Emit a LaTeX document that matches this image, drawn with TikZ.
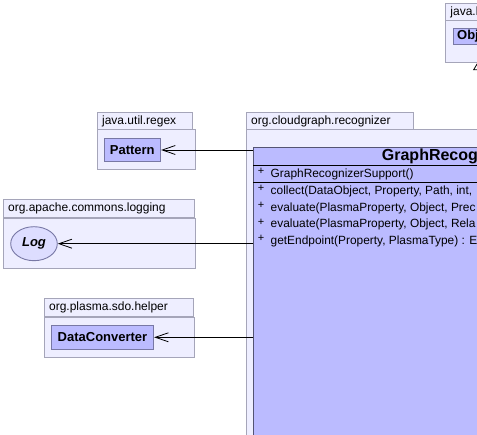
\documentclass[tikz,border=0pt]{standalone}
\usepackage{fontspec}
\setmainfont{Liberation Sans}
\usepackage{xcolor}
\usepackage{tikz}
\usetikzlibrary{
	positioning,						% Relative positioning
	shapes.geometric,					% Ellipse for the interface
	arrows.meta,						% Open arrow tips
	calc								% Coordinate calculations
}
\definecolor{pkg-fill}{RGB}{238,238,255}
\definecolor{pkg-line}{RGB}{165,165,185}
\definecolor{class-fill}{RGB}{187,187,255}
\definecolor{class-line}{RGB}{120,120,165}
\definecolor{iface-fill}{RGB}{221,221,255}

\begin{document}
\begin{tikzpicture}[x=1pt, y=-1pt]
		\tikzstyle{pkgtab} = [draw=pkg-line, fill=pkg-fill, line width=0.9pt, anchor=north west, inner xsep=5pt, inner ysep=0pt, minimum height=18pt, align=left, font=\fontsize{12}{14}\selectfont]
		\tikzstyle{pkgbody} = [draw=pkg-line, fill=pkg-fill, line width=0.9pt, anchor=north west, inner sep=0pt]
		\tikzstyle{classbox} = [draw=class-line, fill=class-fill, line width=0.9pt, inner sep=0pt, font=\bfseries\fontsize{13}{15}\selectfont]
		\tikzstyle{ifacebox} = [draw=class-line, fill=iface-fill, ellipse, line width=0.9pt, inner sep=0pt, font=\bfseries\itshape\fontsize{13}{15}\selectfont]
		\tikzstyle{member} = [anchor=west, inner sep=0pt, font=\fontsize{11.9}{14}\selectfont]
		\tikzstyle{dep} = [-{Straight Barb[length=13pt, width=9pt]}, line width=0.8pt]
		\tikzstyle{inherit} = [-{Triangle[open, length=8.5pt, width=10pt]}, line width=0.8pt]
		
		\useasboundingbox (0,0) rectangle (477,435);
		\clip (0,0) rectangle (477,435);
		
		% Packages
		%% java.lang
		\node[pkgtab, text width=80pt] at (445,2.7) (langTab) {java.lang};
		\node[pkgbody, minimum width=90pt, minimum height=41.7pt] at (445,20) (langBody) {};
		%% java.util.regex
		\node[pkgtab, text width=85pt] at (96.7,111.7) (regexTab) {java.util.regex};
		\node[pkgbody, minimum width=98.6pt, minimum height=40pt] at (96.7,129.3) (regexBody) {};
		%% org.apache.commons.logging
		\node[pkgtab, text width=181.3pt] at (2.7,199.3) (loggingTab) {org.apache.commons.logging};
		\node[pkgbody, minimum width=192.6pt, minimum height=50pt] at (2.7,218.3) (loggingBody) {};
		%% org.plasma.sdo.helper
		\node[pkgtab, text width=139.6pt] at (43.7,298.3) (helperTab) {org.plasma.sdo.helper};
		\node[pkgbody, minimum width=150.6pt, minimum height=40pt] at (43.7,317.3) (helperBody) {};
		%% org.cloudgraph.recognizer
		\node[pkgtab, text width=157.6pt] at (245.7,111.7) (recognizerTab) {org.cloudgraph.recognizer};
		\node[pkgbody, minimum width=470pt, minimum height=340pt] at (245.7,129.3) (recognizerBody) {};
		
		% Classes
		\node[classbox, anchor=north west, minimum width=60pt, minimum height=16.6pt, text width=52pt, inner xsep=3.5pt, align=left] at (452.7,27.7) (object) {Object};
		\node[classbox, minimum width=56.7pt, minimum height=23.4pt] at (132.3,150) (pattern) {Pattern};
		\node[ifacebox, minimum width=46.6pt, minimum height=34pt] at (34,243.7) (log) {Log};
		\node[classbox, minimum width=102.4pt, minimum height=24pt] at (102.5,337.3) (dataConverter) {DataConverter};
		
		%% GraphRecognizerSupport
		\node[classbox, anchor=north west, minimum width=451pt, minimum height=320pt, draw=class-line!70!black] at (253.3,146.7) (recognizer) {};
		\node[font=\bfseries\fontsize{16}{18}\selectfont, inner sep=0pt] at ($(recognizer.north)+(0,9.4)$) (recognizerName) {GraphRecognizerSupport};
		\draw[line width=0.9pt] ($(recognizer.north west)+(0,18.3)$) -- ($(recognizer.north east)+(0,18.3)$);
		\draw[line width=0.9pt] ($(recognizer.north west)+(0,36)$) -- ($(recognizer.north east)+(0,36)$);
		\foreach \y/\txt in {174/{GraphRecognizerSupport()}, 191/{collect(DataObject, Property, Path, int, }, 207.7/{evaluate(PlasmaProperty, Object, Prec}, 224.4/{evaluate(PlasmaProperty, Object, Rela}, 241/{getEndpoint(Property, PlasmaType) : E}}{
			\node[member, font=\fontsize{11}{12}\selectfont] at (257.6,\y-2.2) {+};
			\node[member] at (270.5,\y+0.5) {\txt};
		}
		
		% Dependencies
		\draw[dep] (recognizer.west |- pattern.east) to (pattern.east);
		\draw[dep] (recognizer.west |- log.east) to (log.east);
		\draw[dep] (recognizer.west |- dataConverter.east) to (dataConverter.east);
		
		% Generalization
		\coordinate (objectTip) at (478,61.7);
		\draw[inherit] (recognizer.north -| objectTip) to (objectTip);
	\end{tikzpicture}
\end{document}
